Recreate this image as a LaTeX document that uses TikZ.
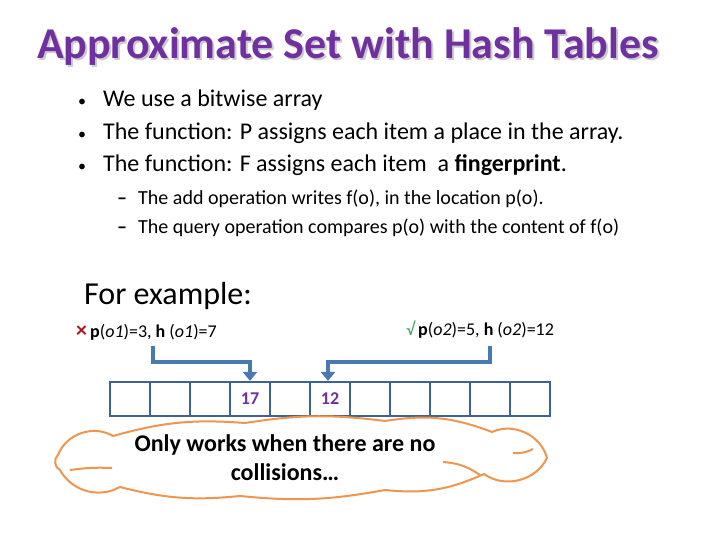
\documentclass[tikz,border=0pt]{standalone}
\usepackage{fontspec}
\setmainfont{Carlito}
\usetikzlibrary{arrows.meta,positioning}
\definecolor{titlepurple}{RGB}{112,48,160}
\definecolor{arrblue}{RGB}{62,98,145}
\definecolor{linkblue}{RGB}{74,120,176}
\definecolor{cloudorange}{RGB}{238,150,80}
\definecolor{crossred}{RGB}{170,20,30}
\definecolor{checkgreen}{RGB}{60,160,90}

\begin{document}
\begin{tikzpicture}[x=1pt, y=-1pt, >=Stealth,
  bullet/.style={anchor=west, font=\fontsize{24}{28}\selectfont, inner sep=0pt},
  subbullet/.style={anchor=west, font=\fontsize{20}{24}\selectfont, inner sep=0pt},
  item/.style={anchor=west, font=\fontsize{18}{22}\selectfont, inner sep=0pt},
  cellbox/.style={draw=arrblue, line width=2.2pt, minimum width=40pt, minimum height=34pt, inner sep=0pt},
  value/.style={font=\fontsize{18}{22}\selectfont\bfseries, text=titlepurple},
  link/.style={draw=linkblue, line width=4.5pt, -{Triangle[width=14pt,length=9pt]}},
  puff/.style={cloudorange, line width=2pt}]
  \useasboundingbox (0,0) rectangle (720,540);
  % title with its shadow
  \node[text=gray!40, font=\fontsize{44}{52}\selectfont\bfseries] (shadow) at (350,49) {Approximate Set with Hash Tables};
  \node[text=titlepurple, font=\fontsize{44}{52}\selectfont\bfseries] (title) at (348,47) {Approximate Set with Hash Tables};
  % bullets
  \node[bullet] (b1) at (78,100) {\makebox[25pt][l]{\fontsize{16}{16}\selectfont •}We use a bitwise array};
  \node[bullet] (b2) at (78,133) {\makebox[25pt][l]{\fontsize{16}{16}\selectfont •}The function: P assigns each item a place in the array.};
  \node[bullet] (b3) at (78,165) {\makebox[25pt][l]{\fontsize{16}{16}\selectfont •}The function: F assigns each item\ \ a \textbf{fingerprint}.};
  \node[subbullet] (s1) at (117,199) {\makebox[21pt][l]{\textbf{–}}The add operation writes f(o), in the location p(o).};
  \node[subbullet] (s2) at (117,228) {\makebox[21pt][l]{\textbf{–}}The query operation compares p(o) with the content of f(o)};
  \node[anchor=west, inner sep=0pt, font=\fontsize{32}{36}\selectfont] (example) at (84,296) {For example:};
  % the two items
  \node[item] (o1) at (76,332) {\textcolor{crossred}{\textbf{\fontsize{22}{22}\selectfont ×}}\,\textbf{p}(\textit{o1})=3, \textbf{h} (\textit{o1})=7};
  \node[item] (o2) at (406,330) {\textcolor{checkgreen}{√}\,\textbf{p}(\textit{o2})=5, \textbf{h} (\textit{o2})=12};
  % the array
  \foreach \i in {1,...,11}
    \node[cellbox] (cell\i) at (90+\i*40,399) {};
  \node[value] (v17) at (cell4) {17};
  \node[value] (v12) at (cell6) {12};
  \coordinate (from1) at (153,346);
  \coordinate (from2) at (490,346);
  \draw[link] (from1) -- ++(0,16) -| (cell4.north);
  \draw[link] (from2) -- ++(0,16) -| ([xshift=-2pt]cell6.north);
  % the note
  \draw[puff, fill=white]
    (58,455) to[bend left=50] (113,436) to[bend left=10] (245,423) to[bend left=8] (385,421)
    to[bend left=15] (492,432) to[bend left=50] (547,458) to[bend left=50] (484,474)
    to[bend left=15] (385,490) to[bend left=8] (240,496) to[bend left=10] (120,487)
    to[bend left=45] (60,470) to[bend left=60] cycle;
  \draw[puff] (513,453) to[bend right=15] (533,449);
  \draw[puff] (443,462) to[bend left=15] (480,475);
  \draw[puff] (70,470) to[bend left=5] (112,468);
  \node[align=center, font=\fontsize{24}{29}\selectfont\bfseries] (note) at (285,458) {Only works when there are no\\collisions…};
\end{tikzpicture}
\end{document}
